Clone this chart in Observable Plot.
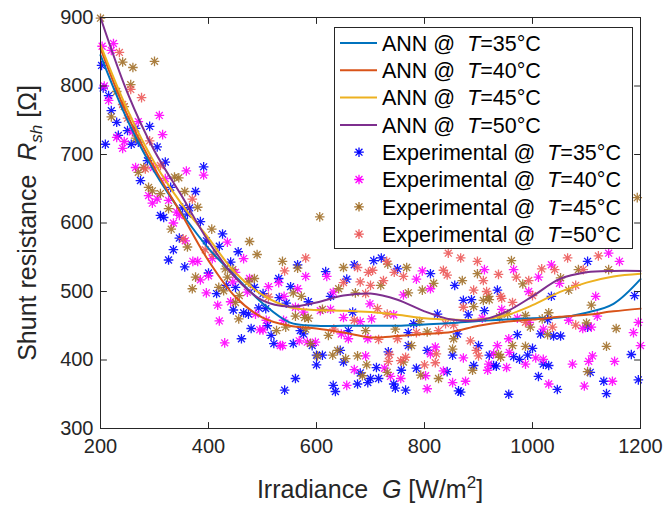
<!DOCTYPE html>
<html><head><meta charset="utf-8">
<script src="https://cdn.jsdelivr.net/npm/d3@7"></script>
<script src="https://cdn.jsdelivr.net/npm/@observablehq/plot@0.6"></script>
<style>body{margin:0;background:#fff}#chart{width:665px;height:505px}</style>
</head><body><div id="chart"></div>
<script>
const xTicks = [200, 400, 600, 800, 1000, 1200];
const yTicks = [300, 400, 500, 600, 700, 800, 900];
const temps = ["35", "40", "45", "50"];
const annG = [200,250,300,350,400,450,500,550,600,650,700,750,800,850,900,950,1000,1050,1100,1150,1200];
const ann35 = [845,750,675,615,563,522,483,455,450,450,450,450,452,454,457,459,461,462,469,482,518];
const ann40 = [855,757,680,613,545,492,462,450,446,440,433,435,438,441,450,456,459,463,466,471,475];
const ann45 = [860,765,688,628,578,527,495,477,473,472,470,466,461,459,459,465,480,499,513,522,526];
const ann50 = [900,790,705,640,573,520,487,478,484,494,497,488,471,459,458,470,493,518,528,530,530];

const exp35 = [[202,830],[205,797],[215,786],[220,764],[230,747],[209,715],[233,728],[250,735],[257,715],[265,738],[270,718],[291,741],[305,711],[287,691],[320,689],[274,662],[391,682],[330,652],[376,646],[352,622],[365,622],[361,613],[311,611],[317,608],[385,602],[426,584],[346,578],[396,574],[420,566],[335,561],[455,558],[326,546],[441,543],[356,536],[400,527],[433,509],[450,506],[485,506],[415,497],[501,497],[530,519],[531,491],[446,473],[465,469],[474,467],[493,476],[506,475],[479,446],[509,450],[516,436],[461,431],[521,424],[565,539],[617,529],[656,518],[670,539],[706,545],[720,549],[750,533],[811,526],[626,493],[552,507],[856,509],[544,483],[585,485],[570,443],[576,438],[557,424],[592,421],[667,470],[659,443],[770,440],[780,453],[824,467],[861,438],[805,414],[770,421],[852,407],[600,407],[611,407],[644,414],[650,397],[600,393],[733,412],[711,389],[681,381],[715,373],[700,373],[695,367],[743,365],[746,359],[757,385],[785,388],[765,356],[676,365],[631,363],[635,354],[561,373],[541,356],[842,383],[863,355],[1102,544],[935,502],[1035,493],[1189,494],[872,487],[887,488],[911,472],[881,466],[1028,459],[1015,438],[1039,435],[1052,435],[1102,448],[1183,408],[1107,382],[1132,369],[1137,351],[1196,371],[1046,357],[1011,376],[1030,392],[1020,394],[1000,417],[991,407],[965,405],[976,401],[972,437],[920,407],[928,392],[933,391],[891,392],[900,421],[867,353],[956,350]];
const exp40 = [[224,862],[203,858],[220,852],[207,800],[215,779],[270,748],[309,757],[315,729],[259,733],[230,725],[244,719],[241,709],[265,681],[298,681],[320,665],[359,676],[391,670],[289,640],[305,635],[296,629],[326,633],[341,616],[346,611],[335,600],[357,574],[435,572],[465,548],[371,544],[380,544],[407,548],[450,528],[400,523],[385,517],[476,519],[511,507],[530,513],[445,514],[396,498],[472,499],[441,485],[417,480],[487,467],[507,458],[420,457],[495,444],[501,444],[430,425],[533,421],[580,522],[619,522],[785,518],[796,530],[811,504],[761,495],[631,499],[565,504],[540,493],[561,477],[576,470],[539,458],[568,428],[583,426],[598,426],[537,421],[607,472],[626,474],[650,462],[681,456],[702,460],[743,466],[699,482],[646,438],[659,431],[695,431],[820,419],[811,409],[691,406],[670,386],[726,388],[737,376],[756,373],[802,377],[805,358],[656,363],[835,384],[852,367],[1141,556],[1161,544],[1035,539],[911,532],[965,532],[1011,521],[1050,512],[993,500],[1117,493],[943,474],[907,461],[972,461],[994,455],[1020,445],[1067,458],[1093,446],[1109,448],[1187,440],[1120,464],[1196,455],[1200,421],[1111,406],[1152,398],[1104,398],[1074,394],[1148,369],[1096,362],[1030,365],[1020,401],[1006,403],[987,394],[957,411],[956,431],[935,421],[928,409],[919,394],[952,389],[917,385],[872,403],[876,369]];
const exp45 = [[200,899],[241,835],[260,827],[300,836],[256,802],[230,792],[244,770],[220,755],[265,724],[280,681],[270,674],[337,667],[345,666],[289,652],[296,647],[311,643],[356,646],[326,621],[380,623],[331,591],[406,591],[476,573],[361,565],[490,554],[431,533],[445,532],[376,521],[485,519],[435,521],[474,514],[370,504],[419,506],[428,501],[457,494],[450,484],[456,460],[526,443],[606,609],[537,544],[565,534],[650,535],[732,540],[767,535],[817,512],[796,502],[770,498],[719,509],[641,504],[672,498],[557,498],[572,493],[561,464],[578,462],[585,461],[543,448],[580,445],[589,424],[611,474],[622,436],[691,443],[746,445],[805,441],[791,456],[854,431],[776,421],[852,416],[602,406],[630,407],[639,414],[654,402],[676,406],[761,397],[693,393],[731,382],[685,377],[793,378],[826,373],[1194,637],[961,545],[898,526],[870,516],[1085,532],[1141,532],[1052,520],[1067,502],[982,511],[919,493],[909,487],[920,488],[891,478],[954,467],[939,463],[987,465],[1030,469],[996,448],[1018,460],[1028,437],[1100,454],[1155,446],[1109,480],[1137,420],[1102,383],[987,420],[963,421],[937,408],[941,404],[889,385]];
const exp50 = [[235,849],[256,795],[276,783],[241,773],[250,753],[291,720],[283,679],[311,684],[370,635],[353,577],[394,561],[409,554],[511,492],[580,549],[541,530],[676,535],[730,544],[696,528],[704,531],[744,528],[761,522],[835,531],[844,556],[842,524],[681,514],[700,509],[724,516],[650,513],[691,497],[632,445],[670,458],[713,475],[731,467],[715,430],[750,431],[785,440],[826,443],[839,453],[854,451],[822,409],[735,408],[756,399],[765,404],[733,398],[800,393],[820,396],[1065,549],[1041,532],[898,544],[867,549],[909,516],[891,502],[915,500],[937,525],[970,521],[993,516],[1017,533],[1094,532],[1080,509],[1000,494],[941,493],[943,490],[963,484],[872,477],[987,455],[1037,448],[1080,451],[896,414],[900,406],[885,428],[1122,552]];

const lineColors = ["#0072BD", "#D95319", "#EDB120", "#7E2F8E"];
const dotColors = ["#0000FF", "#FF00FF", "#A2712B", "#EC5B5B"];
const annSeries = [ann35, ann40, ann45, ann50];
const expSeries = [exp35, exp40, exp45, exp50];

const star = {draw(ctx, size) {
  const r = Math.sqrt(size / Math.PI), d = r * 0.72;
  ctx.moveTo(-r, 0); ctx.lineTo(r, 0);
  ctx.moveTo(0, -r); ctx.lineTo(0, r);
  ctx.moveTo(-d, -d); ctx.lineTo(d, d);
  ctx.moveTo(-d, d); ctx.lineTo(d, -d);
}};
const tickShape = {draw(ctx, l) { ctx.moveTo(0, 0); ctx.lineTo(0, -l); }};
const tickLen = 6;
const axisColor = "#262626";

const marks = [];
expSeries.forEach((s, i) => {
  marks.push(Plot.dot(s, {x: d => d[0], y: d => d[1], symbol: star, r: 4.8, stroke: dotColors[i], strokeWidth: 1.3, strokeOpacity: 0.9}));
});
annSeries.forEach((s, i) => {
  marks.push(Plot.line(annG.map((g, j) => ({g, r: s[j]})), {x: "g", y: "r", stroke: lineColors[i], strokeWidth: 2, curve: "catmull-rom"}));
});
marks.push(
  Plot.frame({stroke: axisColor, strokeWidth: 1}),
  Plot.vector(xTicks, {x: d => d, y: yTicks[0], length: tickLen, rotate: 0, anchor: "start", shape: tickShape, stroke: axisColor, strokeWidth: 1}),
  Plot.vector(xTicks, {x: d => d, y: yTicks[yTicks.length - 1], length: tickLen, rotate: 180, anchor: "start", shape: tickShape, stroke: axisColor, strokeWidth: 1}),
  Plot.vector(yTicks, {x: xTicks[0], y: d => d, length: tickLen, rotate: 90, anchor: "start", shape: tickShape, stroke: axisColor, strokeWidth: 1}),
  Plot.vector(yTicks, {x: xTicks[xTicks.length - 1], y: d => d, length: tickLen, rotate: -90, anchor: "start", shape: tickShape, stroke: axisColor, strokeWidth: 1}),
  Plot.axisX(xTicks, {tickSize: 0, tickPadding: 10, color: axisColor, fontSize: 20, tickFormat: d => String(d), label: null}),
  Plot.axisY(yTicks, {tickSize: 0, tickPadding: 7, color: axisColor, fontSize: 20, tickFormat: d => String(d), label: null})
);

const svgEl = Plot.plot({
  width: 665, height: 505,
  marginLeft: 100, marginRight: 25, marginTop: 17, marginBottom: 77,
  x: {domain: [xTicks[0], xTicks[xTicks.length - 1]], label: null},
  y: {domain: [yTicks[0], yTicks[yTicks.length - 1]], label: null},
  style: {fontFamily: "'Liberation Sans', Arial, sans-serif", fontSize: "20px", color: axisColor, background: "#fff"},
  marks
});
document.getElementById("chart").appendChild(svgEl);

const svg = d3.select(svgEl);
const font = "'Liberation Sans', Arial, sans-serif";
// axis titles
const xl = svg.append("text").attr("x", 370).attr("y", 498).attr("text-anchor", "middle")
  .attr("font-family", font).attr("font-size", 25).attr("fill", axisColor);
xl.append("tspan").text("Irradiance\u00a0 ");
xl.append("tspan").attr("font-style", "italic").text("G");
xl.append("tspan").text(" [W/m");
xl.append("tspan").attr("font-size", 17).attr("dy", -10).text("2");
xl.append("tspan").attr("dy", 10).text("]");

const yl = svg.append("text").attr("transform", "translate(36,223) rotate(-90)").attr("text-anchor", "middle")
  .attr("font-family", font).attr("font-size", 25).attr("fill", axisColor);
yl.append("tspan").text("Shunt resistance\u00a0 ");
yl.append("tspan").attr("font-style", "italic").text("R");
yl.append("tspan").attr("font-style", "italic").attr("font-size", 17).attr("dy", 6).text("sh");
yl.append("tspan").attr("dy", -6).text(" [\u03A9]");

// legend
const lg = svg.append("g");
lg.append("rect").attr("x", 334.5).attr("y", 27.5).attr("width", 298).attr("height", 221)
  .attr("fill", "#fff").attr("stroke", axisColor).attr("stroke-width", 1);
const rowY = i => 43 + i * 27.3;
const entries = [];
temps.forEach((t, i) => entries.push({kind: "line", color: lineColors[i], label: "ANN @", t}));
temps.forEach((t, i) => entries.push({kind: "dot", color: dotColors[i], label: "Experimental @", t}));
entries.forEach((e, i) => {
  const y = rowY(i);
  if (e.kind === "line") {
    lg.append("line").attr("x1", 340).attr("x2", 377).attr("y1", y).attr("y2", y)
      .attr("stroke", e.color).attr("stroke-width", 2);
  } else {
    lg.append("path").attr("d", d3.symbol().type(star).size(Math.PI * 4.8 * 4.8)())
      .attr("transform", `translate(359,${y})`).attr("fill", "none")
      .attr("stroke", e.color).attr("stroke-width", 1.3);
  }
  const tx = lg.append("text").attr("x", 382).attr("y", y).attr("dy", "0.36em").attr("text-anchor", "start")
    .attr("font-family", font).attr("font-size", 21.5).attr("fill", "#000");
  tx.append("tspan").text(e.label + "\u00a0\u00a0");
  tx.append("tspan").attr("font-style", "italic").text("T");
  tx.append("tspan").text("=" + e.t + "\u00b0C");
});
</script>
</body></html>
